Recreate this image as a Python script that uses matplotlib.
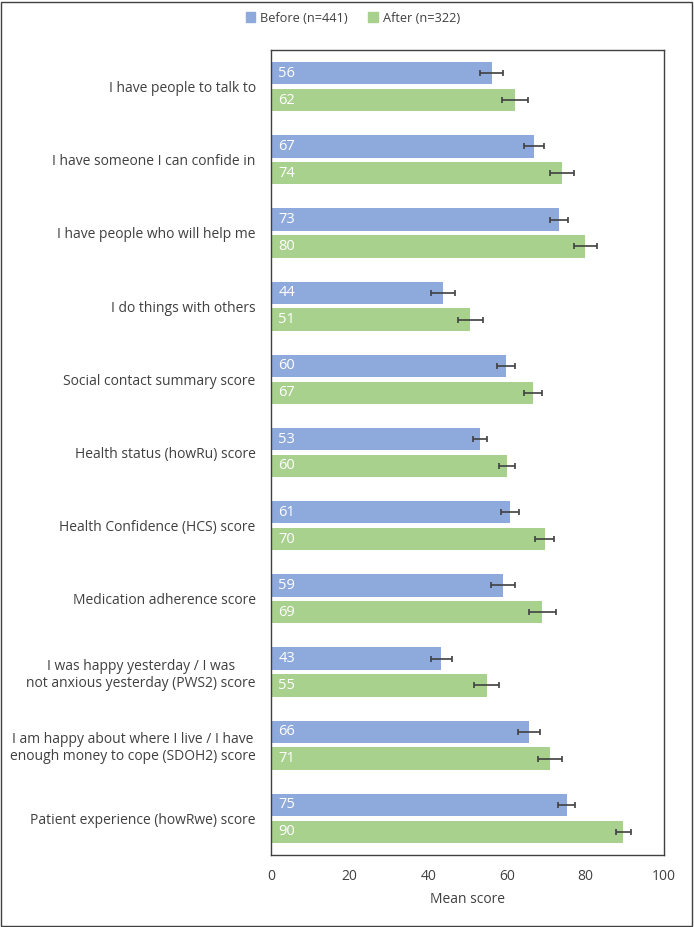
import matplotlib
matplotlib.use("Agg")
import matplotlib.pyplot as plt
import numpy as np
from matplotlib.patches import Rectangle

categories = [
    "I have people to talk to",
    "I have someone I can confide in",
    "I have people who will help me",
    "I do things with others",
    "Social contact summary score",
    "Health status (howRu) score",
    "Health Confidence (HCS) score",
    "Medication adherence score",
    "I was happy yesterday / I was\nnot anxious yesterday (PWS2) score",
    "I am happy about where I live / I have\nenough money to cope (SDOH2) score",
    "Patient experience (howRwe) score",
]
before = [56.2, 67.0, 73.2, 43.8, 59.8, 53.1, 60.8, 59.1, 43.3, 65.7, 75.2]
after = [62.0, 74.1, 80.0, 50.7, 66.7, 60.1, 69.6, 69.0, 54.9, 71.0, 89.6]
before_err = [2.9, 2.5, 2.3, 3.0, 2.2, 1.8, 2.4, 3.0, 2.7, 2.8, 2.1]
after_err = [3.3, 3.0, 3.0, 3.2, 2.3, 2.0, 2.3, 3.4, 3.2, 3.1, 1.9]
before_labels = ["56", "67", "73", "44", "60", "53", "61", "59", "43", "66", "75"]
after_labels = ["62", "74", "80", "51", "67", "60", "70", "69", "55", "71", "90"]
series_names = ["Before (n=441)", "After (n=322)"]
xticks = [0, 20, 40, 60, 80, 100]

plt.rcParams['font.family'] = ['Open Sans', 'DejaVu Sans']

W, H = 694, 927
fig = plt.figure(figsize=(W / 100, H / 100), dpi=100)
ax = fig.add_axes([271 / W, 1 - 855 / H, (664 - 271) / W, (855 - 50) / H])

blue = "#8EA9DB"
green = "#A9D18E"
y = np.arange(len(categories))
h = 0.306
off = 0.1835

ax.barh(y - off, before, height=h, color=blue, xerr=before_err,
        error_kw=dict(ecolor="#404040", elinewidth=1.2, capsize=2.3, capthick=1.2))
ax.barh(y + off, after, height=h, color=green, xerr=after_err,
        error_kw=dict(ecolor="#404040", elinewidth=1.2, capsize=2.3, capthick=1.2))

for i in range(len(categories)):
    ax.text(1.9, y[i] - off, before_labels[i], color="white", fontsize=10.5,
            va="center", ha="left")
    ax.text(1.9, y[i] + off, after_labels[i], color="white", fontsize=10.5,
            va="center", ha="left")

ax.set_xlim(0, 100)
ax.set_ylim(len(categories) - 0.5, -0.5)
ax.set_yticks(y)
ax.set_yticklabels(categories, multialignment="center", fontsize=10, color="#404040")
ax.set_xticks(xticks)
ax.set_xticklabels([str(t) for t in xticks], fontsize=10, color="#404040")
ax.tick_params(axis="y", length=0, pad=11)
ax.tick_params(axis="x", length=0, pad=10)
ax.set_xlabel("Mean score", fontsize=10, color="#404040", labelpad=6)
for s in ax.spines.values():
    s.set_color("#404040")
    s.set_linewidth(1.0)

# legend
handles = [Rectangle((0, 0), 1, 1, color=blue), Rectangle((0, 0), 1, 1, color=green)]
fig.legend(handles, series_names, loc="center", bbox_to_anchor=(353 / W, 1 - 18 / H),
           ncol=2, frameon=False, fontsize=9.2, handlelength=0.75, handleheight=0.75,
           handletextpad=0.4, columnspacing=1.6, labelcolor="#404040")

# outer border
fig.patches.append(Rectangle((1 / W, 1 / H), (W - 3) / W, (H - 3) / H, transform=fig.transFigure,
                             fill=False, edgecolor="#404040", linewidth=1.0))

fig.savefig("out.png", dpi=100)
